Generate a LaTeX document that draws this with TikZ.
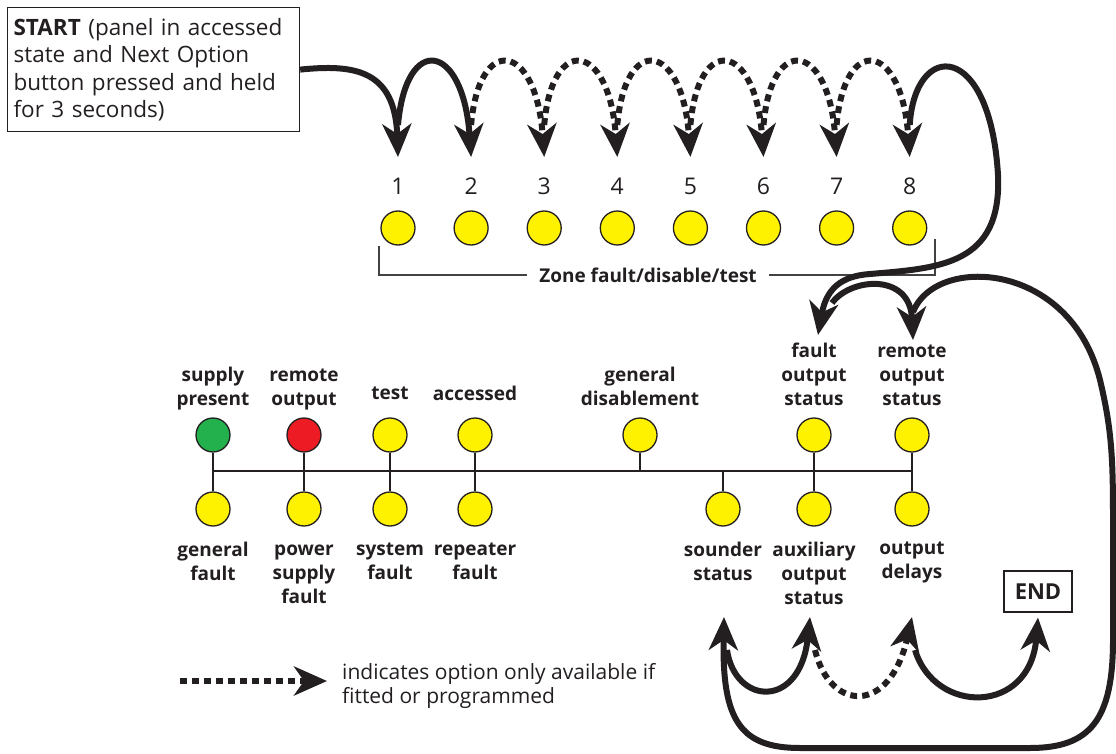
\documentclass[tikz,border=0pt]{standalone}
\usepackage{fontspec}
\setmainfont{Open Sans}
\usetikzlibrary{arrows.meta,positioning}
\definecolor{ledyellow}{RGB}{255,242,0}
\definecolor{ledgreen}{RGB}{34,177,76}
\definecolor{ledred}{RGB}{237,28,36}
\definecolor{ink}{RGB}{35,31,32}
\tikzset{
  box/.style={draw=ink, line width=1.2pt, text=ink},
  led/.style={circle, draw=ink, line width=1.3pt, fill=ledyellow, minimum size=34pt, inner sep=0pt},
  num/.style={font=\fontsize{23}{23}\selectfont, text=ink, inner sep=0pt},
  lbl/.style={font=\fontsize{19}{24}\selectfont\bfseries, align=center, text=ink, inner sep=0pt},
  bus/.style={draw=ink, line width=1.5pt},
  bracket/.style={draw=ink!85, line width=1.3pt},
  jump/.style={draw=ink, line width=6pt, -{Stealth[length=33pt, width=29pt, inset=10pt]}},
  optjump/.style={jump, dash pattern=on 7pt off 5pt},
}
\begin{document}
\begin{tikzpicture}[x=1pt, y=-1pt]
\useasboundingbox (0,0) rectangle (1116,754);
% start box
\node[box, anchor=north west, text width=280pt, minimum height=124pt, inner sep=6pt, align=left, font=\fontsize{22.5}{27.5}\selectfont] (start) at (7,7) {\textbf{START} (panel in accessed\\state and Next Option\\button pressed and held\\for 3 seconds)};
% zone leds
\foreach \i in {1,...,8} {
  \pgfmathsetmacro\zx{398+73.1*(\i-1)}
  \node[led] (z\i) at (\zx,228) {};
  \node[num] (n\i) at (\zx,186) {\i};
  \coordinate (t\i) at (\zx,157);
  \coordinate (a\i) at (\zx,125);
}
\node[lbl, inner xsep=12pt] (zl) at (648,275) {Zone fault/disable/test};
\coordinate (zbl) at (379,246);
\coordinate (zbr) at (935,239);
\draw[bracket] (zl.west) -| (zbl);
\draw[bracket] (zl.east) -| (zbr);
% indicator leds
\foreach \n/\x/\c in {sp/213/ledgreen, ro/304/ledred, ts/390/ledyellow, ac/475/ledyellow, gd/640/ledyellow, fo/814/ledyellow, rs/912/ledyellow}
  \node[led, fill=\c] (\n) at (\x,435) {};
\foreach \n/\x in {gf/213, ps/304, sf/390, rf/475, so/723, ax/814, od/912}
  \node[led] (\n) at (\x,509) {};
\coordinate (busl) at (213,471);
\coordinate (busr) at (912,471);
\draw[bus] (busl) -- (busr);
\foreach \n in {sp,ro,ts,ac,gd,fo,rs} \draw[bus] (\n.south) -- (\n.south |- busl);
\foreach \n in {gf,ps,sf,rf,so,ax,od} \draw[bus] (\n.north) -- (\n.north |- busl);
% labels
\node[lbl] (lsp) at (213,389) {supply\\present};
\node[lbl] (lro) at (304,389) {remote\\output};
\node[lbl] (lts) at (390,393) {test};
\node[lbl] (lac) at (475,393) {accessed};
\node[lbl] (lgd) at (640,386) {general\\disablement};
\node[lbl] (lfo) at (814,374) {fault\\output\\status};
\node[lbl] (lrs) at (912,375) {remote\\output\\status};
\node[lbl] (lgf) at (213,561) {general\\fault};
\node[lbl] (lps) at (304,574) {power\\supply\\fault};
\node[lbl] (lsf) at (390,561) {system\\fault};
\node[lbl] (lrf) at (475,561) {repeater\\fault};
\node[lbl] (lso) at (723,561) {sounder\\status};
\node[lbl] (lax) at (814,573) {auxiliary\\output\\status};
\node[lbl] (lod) at (912,562) {output\\delays};
\node[box, font=\fontsize{22}{22}\selectfont\bfseries, minimum width=68pt, minimum height=41pt, inner sep=0pt] (end) at (1038,591.5) {END};
% top jumps
\draw[jump] (start.east) .. controls (355,64) and (395,70) .. (t1);
\draw[jump] (a1) .. controls +(8,-92) and +(-8,-115) .. (t2);
\foreach \i/\j in {2/3,3/4,4/5,5/6,6/7,7/8}
  \draw[optjump] (a\i) .. controls +(8,-92) and +(-8,-115) .. (t\j);
% loop round to the outputs
\coordinate (fo-t) at (818,335);
\coordinate (fo-b) at (832,303);
\coordinate (rs-t) at (913,340);
\coordinate (rs-b) at (913,312);
\draw[jump] (a8) .. controls (915,40) and (990,40) .. (998,175) .. controls (1002,265) and (940,268) .. (870,274) .. controls (840,276) and (826,290) .. (fo-t);
\draw[jump] (fo-b) .. controls (850,278) and (910,272) .. (rs-t);
\coordinate (so-t) at (724,617);
\coordinate (so-b) at (727,650);
\coordinate (ax-t) at (810,617);
\coordinate (ax-b) at (815,650);
\coordinate (od-t) at (912,617);
\coordinate (od-b) at (915,650);
\coordinate (end-t) at ([yshift=-5pt]end.south);
\draw[jump] (rs-b) .. controls (935,255) and (1070,260) .. (1100,380) .. controls (1112,430) and (1113,460) .. (1113,520) -- (1113,640) .. controls (1113,720) and (1090,748) .. (1030,748) -- (800,748) .. controls (740,748) and (722,720) .. (so-t);
\draw[jump] (so-b) .. controls (735,705) and (800,710) .. (ax-t);
\draw[optjump] (ax-b) .. controls (830,712) and (890,715) .. (od-t);
\draw[jump] (od-b) .. controls (935,715) and (1030,715) .. (end-t);
% legend
\coordinate (lg-a) at (180,681);
\coordinate (lg-b) at (327,681);
\draw[optjump] (lg-a) -- (lg-b);
\node[anchor=west, align=left, font=\fontsize{21}{24}\selectfont, text=ink, inner sep=0pt] (lgt) at (342,686) {indicates option only available if\\fitted or programmed};
\end{tikzpicture}
\end{document}
